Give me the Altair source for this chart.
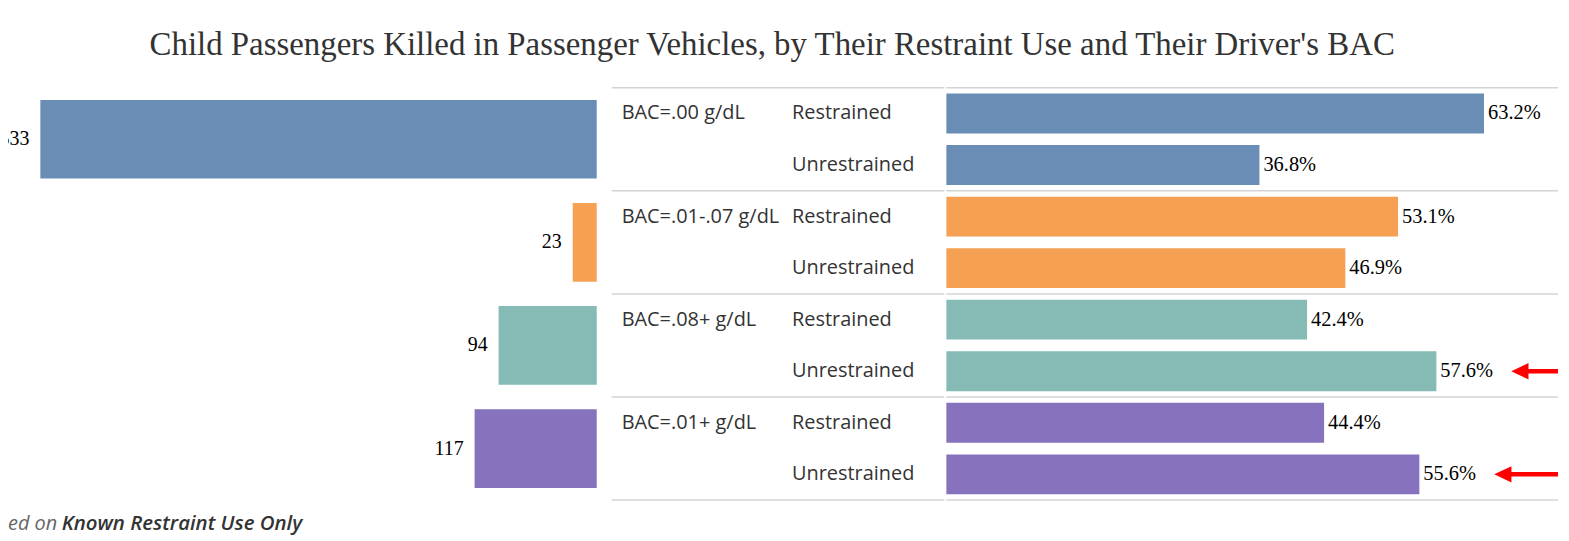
import altair as alt
import pandas as pd

# ---------------- data ----------------
groups = ["BAC=.00 g/dL", "BAC=.01-.07 g/dL", "BAC=.08+ g/dL", "BAC=.01+ g/dL"]
counts = [533, 23, 94, 117]
restraint = ["Restrained", "Unrestrained"]
restrained_pct = [63.2, 53.1, 42.4, 44.4]
unrestrained_pct = [36.8, 46.9, 57.6, 55.6]
colors = ["#6a8db5", "#f5a052", "#85bab5", "#8772be"]
arrow_groups = ["BAC=.08+ g/dL", "BAC=.01+ g/dL"]
title_text = "Child Passengers Killed in Passenger Vehicles, by Their Restraint Use and Their Driver's BAC"
footer_a = "ed on"
footer_b = "Known Restraint Use Only"

SERIF = "Liberation Serif"
SANS = "Open Sans"
COUNT_MAX = 564
PCT_MAX = 71.9
ARROW_GAP = 8.8

W_A, W_B, W_C, H = 591, 334, 614, 414

rows = []
for g, rp, up in zip(groups, restrained_pct, unrestrained_pct):
    for r, v in zip(restraint, [rp, up]):
        rows.append({"group": g, "restraint": r, "row": f"{g} | {r}", "pct": v,
                     "label": f"{v:.1f}%", "first": r == "Restrained"})
pct_df = pd.DataFrame(rows)
row_order = list(pct_df["row"])
count_df = pd.DataFrame({"group": groups, "count": counts})

arrow_df = pct_df[(pct_df["group"].isin(arrow_groups)) & (pct_df["restraint"] == "Unrestrained")].copy()
arrow_df["tip"] = arrow_df["pct"] + ARROW_GAP
arrow_df["start"] = arrow_df["tip"] + 1.0
arrow_df["end"] = PCT_MAX

color = alt.Color("group:N", scale=alt.Scale(domain=groups, range=colors), legend=None)

# ---------------- left panel: counts ----------------
y_group = alt.Y("group:N", axis=None,
                scale=alt.Scale(domain=groups, paddingInner=0, paddingOuter=0))
x_count = alt.X("count:Q", axis=None,
                scale=alt.Scale(domain=[0, COUNT_MAX], reverse=True, nice=False))
bars_a = alt.Chart(count_df).mark_bar(size=79).encode(x=x_count, y=y_group, color=color)
labels_a = alt.Chart(count_df).mark_text(
    align="right", baseline="middle", dx=-11, font=SERIF, fontSize=20, color="black", clip=True
).encode(x=x_count, y=y_group, text="count:Q")
foot_df = pd.DataFrame({"a": [footer_a], "b": [footer_b]})
foot1 = alt.Chart(foot_df).mark_text(
    align="left", baseline="alphabetic", font=SANS, fontSize=20, fontStyle="italic", color="#666"
).encode(x=alt.value(0), y=alt.value(444), text="a:N")
foot2 = alt.Chart(foot_df).mark_text(
    align="left", baseline="alphabetic", font=SANS, fontSize=20.5, fontStyle="italic",
    fontWeight=600, color="#333"
).encode(x=alt.value(54), y=alt.value(444), text="b:N")
panel_a = alt.layer(bars_a, labels_a, foot1, foot2).properties(width=W_A, height=H)

# ---------------- shared row scale ----------------
row_scale = alt.Scale(domain=row_order, paddingInner=0, paddingOuter=0)
y_row = alt.Y("row:N", axis=None, scale=row_scale)


def rules(width):
    top = alt.Chart(pct_df).transform_filter("datum.first").mark_rule(
        color="#d4d4d4", strokeWidth=1.5
    ).encode(y=alt.Y("row:N", axis=None, scale=row_scale, bandPosition=0),
             x=alt.value(0), x2=alt.value(width))
    bottom = alt.Chart(pct_df).transform_filter(
        alt.datum.row == row_order[-1]
    ).mark_rule(color="#d4d4d4", strokeWidth=1.5).encode(
        y=alt.Y("row:N", axis=None, scale=row_scale, bandPosition=1),
        x=alt.value(0), x2=alt.value(width))
    return [top, bottom]


# ---------------- middle panel: row headers ----------------
group_text = alt.Chart(pct_df).transform_filter("datum.first").mark_text(
    align="left", baseline="middle", font=SANS, fontSize=20, color="#333"
).encode(x=alt.value(10), y=y_row, text="group:N")
restraint_text = alt.Chart(pct_df).mark_text(
    align="left", baseline="middle", font=SANS, fontSize=20, color="#333"
).encode(x=alt.value(181), y=y_row, text="restraint:N")
panel_b = alt.layer(*rules(W_B), group_text, restraint_text).properties(width=W_B, height=H)

# ---------------- right panel: percentages ----------------
x_pct = alt.X("pct:Q", axis=None, scale=alt.Scale(domain=[0, PCT_MAX], nice=False))
bars_c = alt.Chart(pct_df).mark_bar(size=40).encode(x=x_pct, y=y_row, color=color)
labels_c = alt.Chart(pct_df).mark_text(
    align="left", baseline="middle", dx=4, font=SERIF, fontSize=20.5, color="black"
).encode(x=x_pct, y=y_row, text="label:N")
x_arrow = alt.Scale(domain=[0, PCT_MAX], nice=False)
shaft = alt.Chart(arrow_df).mark_rule(color="#ff0000", strokeWidth=4.5).encode(
    x=alt.X("start:Q", axis=None, scale=x_arrow), x2="end:Q", y=y_row)
head = alt.Chart(arrow_df).mark_point(
    shape="M0,0L2,-0.95L2,0.95Z", size=300, filled=True, color="#ff0000", opacity=1, strokeWidth=0
).encode(x=alt.X("tip:Q", axis=None, scale=x_arrow), y=y_row)
panel_c = alt.layer(*rules(W_C), bars_c, labels_c, shaft, head).properties(width=W_C, height=H)

chart = alt.hconcat(
    panel_a,
    alt.hconcat(panel_b, panel_c, spacing=0),
    spacing=14,
).properties(
    title=alt.TitleParams(title_text, font=SERIF, fontSize=33, fontWeight="normal",
                          color="#333", anchor="middle", offset=25, dx=-12),
    padding={"left": 0, "top": 20, "right": 0, "bottom": 0},
).configure_view(stroke=None)

chart.save("out.html", embed_options={"renderer": "svg", "actions": False})
